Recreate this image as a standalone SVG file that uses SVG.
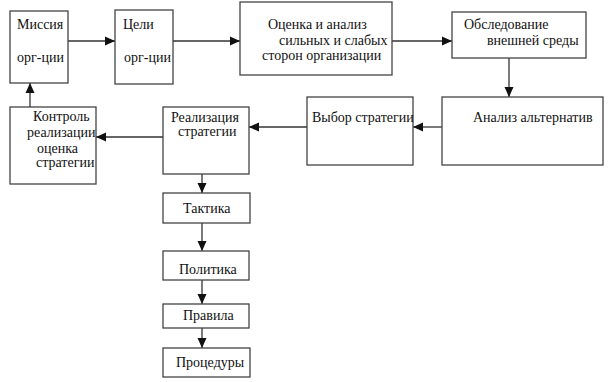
<svg xmlns="http://www.w3.org/2000/svg" width="608" height="382" viewBox="0 0 608 382">
<style>
.box{fill:#fff;stroke:#444;stroke-width:1.3}
.t{font-family:"Liberation Serif","DejaVu Serif",serif;font-size:14px;fill:#111}
.c{fill:none;stroke:#333;stroke-width:1.3}
</style>
<defs>
<marker id="ah" markerUnits="userSpaceOnUse" markerWidth="10" markerHeight="10" viewBox="0 0 10 10" refX="10" refY="5" orient="auto">
<path d="M0,0.5 L10,5 L0,9.5 Z" fill="#111"/>
</marker>
</defs>
<rect width="608" height="382" fill="#fff"/>
<g id="connectors">
<line class="c" x1="68" y1="41" x2="115" y2="41" marker-end="url(#ah)"/>
<line class="c" x1="173" y1="41" x2="240" y2="41" marker-end="url(#ah)"/>
<line class="c" x1="392" y1="41" x2="452" y2="41" marker-end="url(#ah)"/>
<line class="c" x1="509" y1="58" x2="509" y2="97" marker-end="url(#ah)"/>
<line class="c" x1="442" y1="127" x2="413" y2="127" marker-end="url(#ah)"/>
<line class="c" x1="307" y1="127" x2="249" y2="127" marker-end="url(#ah)"/>
<line class="c" x1="163" y1="137" x2="96" y2="137" marker-end="url(#ah)"/>
<line class="c" x1="30" y1="107" x2="30" y2="83" marker-end="url(#ah)"/>
<line class="c" x1="202" y1="174" x2="202" y2="193" marker-end="url(#ah)"/>
<line class="c" x1="202" y1="223" x2="202" y2="251" marker-end="url(#ah)"/>
<line class="c" x1="202" y1="280" x2="202" y2="304" marker-end="url(#ah)"/>
<line class="c" x1="202" y1="328" x2="202" y2="348" marker-end="url(#ah)"/>
</g>
<g id="missiya"><rect class="box" x="10" y="11" width="58" height="72"/>
<text class="t" x="17" y="29">Миссия</text><text class="t" x="17" y="62">орг-ции</text></g>
<g id="tseli"><rect class="box" x="115" y="10" width="58" height="74"/>
<text class="t" x="123" y="29">Цели</text><text class="t" x="124" y="62">орг-ции</text></g>
<g id="otsenka"><rect class="box" x="240" y="2" width="152" height="73"/>
<text class="t" x="268" y="29">Оценка и анализ</text><text class="t" x="279" y="45">сильных и слабых</text><text class="t" x="262" y="60">сторон организации</text></g>
<g id="obsledovanie"><rect class="box" x="452" y="12" width="134" height="46"/>
<text class="t" x="464" y="29">Обследование</text><text class="t" x="487" y="45">внешней среды</text></g>
<g id="analiz"><rect class="box" x="442" y="97" width="161" height="68"/>
<text class="t" x="473" y="122">Анализ альтернатив</text></g>
<g id="vybor"><rect class="box" x="307" y="97" width="106" height="68"/>
<text class="t" x="312" y="122">Выбор  стратегии</text></g>
<g id="realizatsiya"><rect class="box" x="163" y="107" width="86" height="67"/>
<text class="t" x="171" y="122">Реализация</text><text class="t" x="178" y="136">стратегии</text></g>
<g id="kontrol"><rect class="box" x="10" y="107" width="86" height="77"/>
<text class="t" x="33" y="121">Контроль</text><text class="t" x="27" y="137">реализации</text><text class="t" x="37" y="153">оценка</text><text class="t" x="36" y="167">стратегии</text></g>
<g id="taktika"><rect class="box" x="163" y="193" width="87" height="30"/>
<text class="t" x="183" y="213">Тактика</text></g>
<g id="politika"><rect class="box" x="163" y="251" width="86" height="29"/>
<text class="t" x="179" y="274">Политика</text></g>
<g id="pravila"><rect class="box" x="163" y="304" width="86" height="24"/>
<text class="t" x="183" y="320">Правила</text></g>
<g id="protsedury"><rect class="box" x="163" y="348" width="87" height="29"/>
<text class="t" x="176" y="367">Процедуры</text></g>
</svg>
